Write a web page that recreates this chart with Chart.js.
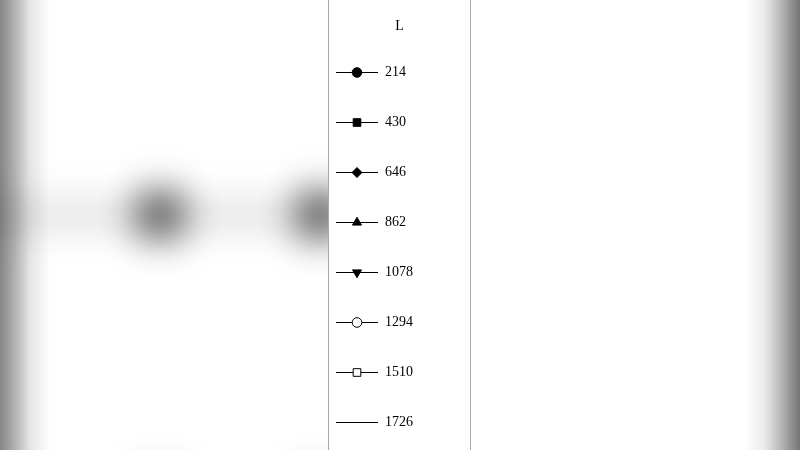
<!DOCTYPE html>
<html lang="en">
<head>
  <meta charset="UTF-8">
  <title>L</title>
  <script src="https://cdn.jsdelivr.net/npm/chart.js"></script>
  <style>
    html, body { margin: 0; padding: 0; background: #fff; overflow: hidden; }
    #wrap { position: relative; width: 800px; height: 500px; }
  </style>
</head>
<body>
<div id="wrap"><canvas id="chart"></canvas></div>

<script>
// data
const legendTitle = 'L';
const seriesLabels = ['214', '430', '646', '862', '1078', '1294', '1510', '1726'];
const xValues = [0, 2, 3, 4];
const series214 = [5.7, 5.7, 5.7, 5.7];
const series430 = [0.05, 0.05, 0.05, 0.05];
const series646 = [];
const series862 = [];
const series1078 = [];
const series1294 = [];
const series1510 = [];
const series1726 = [];
const seriesValues = [series214, series430, series646, series862, series1078, series1294, series1510, series1726];

// marker look per series
const markers = [
  { style: 'circle', fill: true, r: 4.8 },
  { style: 'rect', fill: true, r: 5.4 },
  { style: 'rectRot', fill: true, r: 5 },
  { style: 'triangle', fill: true, r: 5.2 },
  { style: 'triangle', fill: true, r: 5.2, rot: 180 },
  { style: 'circle', fill: false, r: 4.8 },
  { style: 'rect', fill: false, r: 5.4 },
  { style: false }
];

const serif = '"Liberation Serif", "Times New Roman", serif';

// small line + marker picture for each legend entry
function legendIcon(m) {
  const c = document.createElement('canvas');
  c.width = 42;
  c.height = 14;
  const g = c.getContext('2d');
  g.strokeStyle = '#000';
  g.lineWidth = 1;
  g.beginPath();
  g.moveTo(0, 7.5);
  g.lineTo(42, 7.5);
  g.stroke();
  if (m.style) {
    g.fillStyle = m.fill ? '#000' : '#fff';
    g.strokeStyle = '#000';
    if (Chart.helpers && Chart.helpers.drawPoint) {
      Chart.helpers.drawPoint(g, { pointStyle: m.style, radius: m.r, rotation: m.rot || 0, borderWidth: 1 }, 21, 7.5);
    } else {
      g.beginPath();
      g.arc(21, 7.5, m.r, 0, Math.PI * 2);
      g.fill();
      g.stroke();
    }
  }
  return c;
}

const datasets = seriesLabels.map((label, i) => ({
  label: label,
  data: seriesValues[i].map((v, j) => ({ x: xValues[j], y: v })),
  borderColor: '#000',
  backgroundColor: '#000',
  borderWidth: 3.4,
  pointStyle: markers[i].style || false,
  pointRotation: markers[i].rot || 0,
  pointRadius: 21,
  pointBorderWidth: 0
}));

const blurPlot = {
  id: 'blurPlot',
  beforeDatasetsDraw(chart) {
    chart.ctx.save();
    chart.ctx.filter = 'blur(21px)';
  },
  afterDatasetsDraw(chart) {
    chart.ctx.restore();
  }
};

const frame = {
  id: 'frame',
  afterDraw(chart) {
    const ctx = chart.ctx;
    const lg = chart.legend;
    const h = chart.height;
    ctx.save();
    // legend border
    ctx.strokeStyle = '#a8a8a8';
    ctx.lineWidth = 1;
    ctx.strokeRect(lg.left + 0.5, -1, lg.width - 1, h + 2);
    // dark edges left and right
    let gr = ctx.createLinearGradient(0, 0, 50, 0);
    gr.addColorStop(0, 'rgba(0,0,0,0.48)');
    gr.addColorStop(0.3, 'rgba(0,0,0,0.3)');
    gr.addColorStop(0.6, 'rgba(0,0,0,0.1)');
    gr.addColorStop(1, 'rgba(0,0,0,0)');
    ctx.fillStyle = gr;
    ctx.fillRect(0, 0, 50, h);
    gr = ctx.createLinearGradient(chart.width, 0, chart.width - 55, 0);
    gr.addColorStop(0, 'rgba(0,0,0,0.54)');
    gr.addColorStop(0.1, 'rgba(0,0,0,0.47)');
    gr.addColorStop(0.35, 'rgba(0,0,0,0.28)');
    gr.addColorStop(0.65, 'rgba(0,0,0,0.08)');
    gr.addColorStop(1, 'rgba(0,0,0,0)');
    ctx.fillStyle = gr;
    ctx.fillRect(chart.width - 55, 0, 55, h);
    ctx.restore();
  }
};

new Chart(document.getElementById('chart'), {
  type: 'line',
  data: { datasets: datasets },
  options: {
    responsive: true,
    maintainAspectRatio: false,
    animation: false,
    layout: { autoPadding: false, padding: { left: 0, top: 0, bottom: 0, right: 329 } },
    scales: {
      x: { type: 'linear', min: 1, max: 3.05, display: false },
      y: { type: 'linear', min: 0, max: 10, display: false }
    },
    plugins: {
      tooltip: { enabled: false },
      legend: {
        position: 'right',
        align: 'start',
        maxWidth: 143,
        title: {
          display: true,
          text: legendTitle,
          color: '#000',
          position: 'center',
          font: { family: serif, size: 14, lineHeight: '17px' },
          padding: { top: 19, bottom: 21 }
        },
        labels: {
          usePointStyle: true,
          pointStyleWidth: 42,
          padding: 8,
          color: '#000',
          font: { family: serif, size: 14, lineHeight: '42px' },
          generateLabels(chart) {
            return chart.data.datasets.map((ds, i) => ({
              text: [ds.label + '\u00a0'.repeat(24)],
              pointStyle: legendIcon(markers[i]),
              fillStyle: '#000',
              strokeStyle: '#000',
              lineWidth: 1,
              fontColor: '#000',
              hidden: !chart.isDatasetVisible(i),
              datasetIndex: i
            }));
          }
        }
      }
    }
  },
  plugins: [blurPlot, frame]
});
</script>
</body>
</html>
